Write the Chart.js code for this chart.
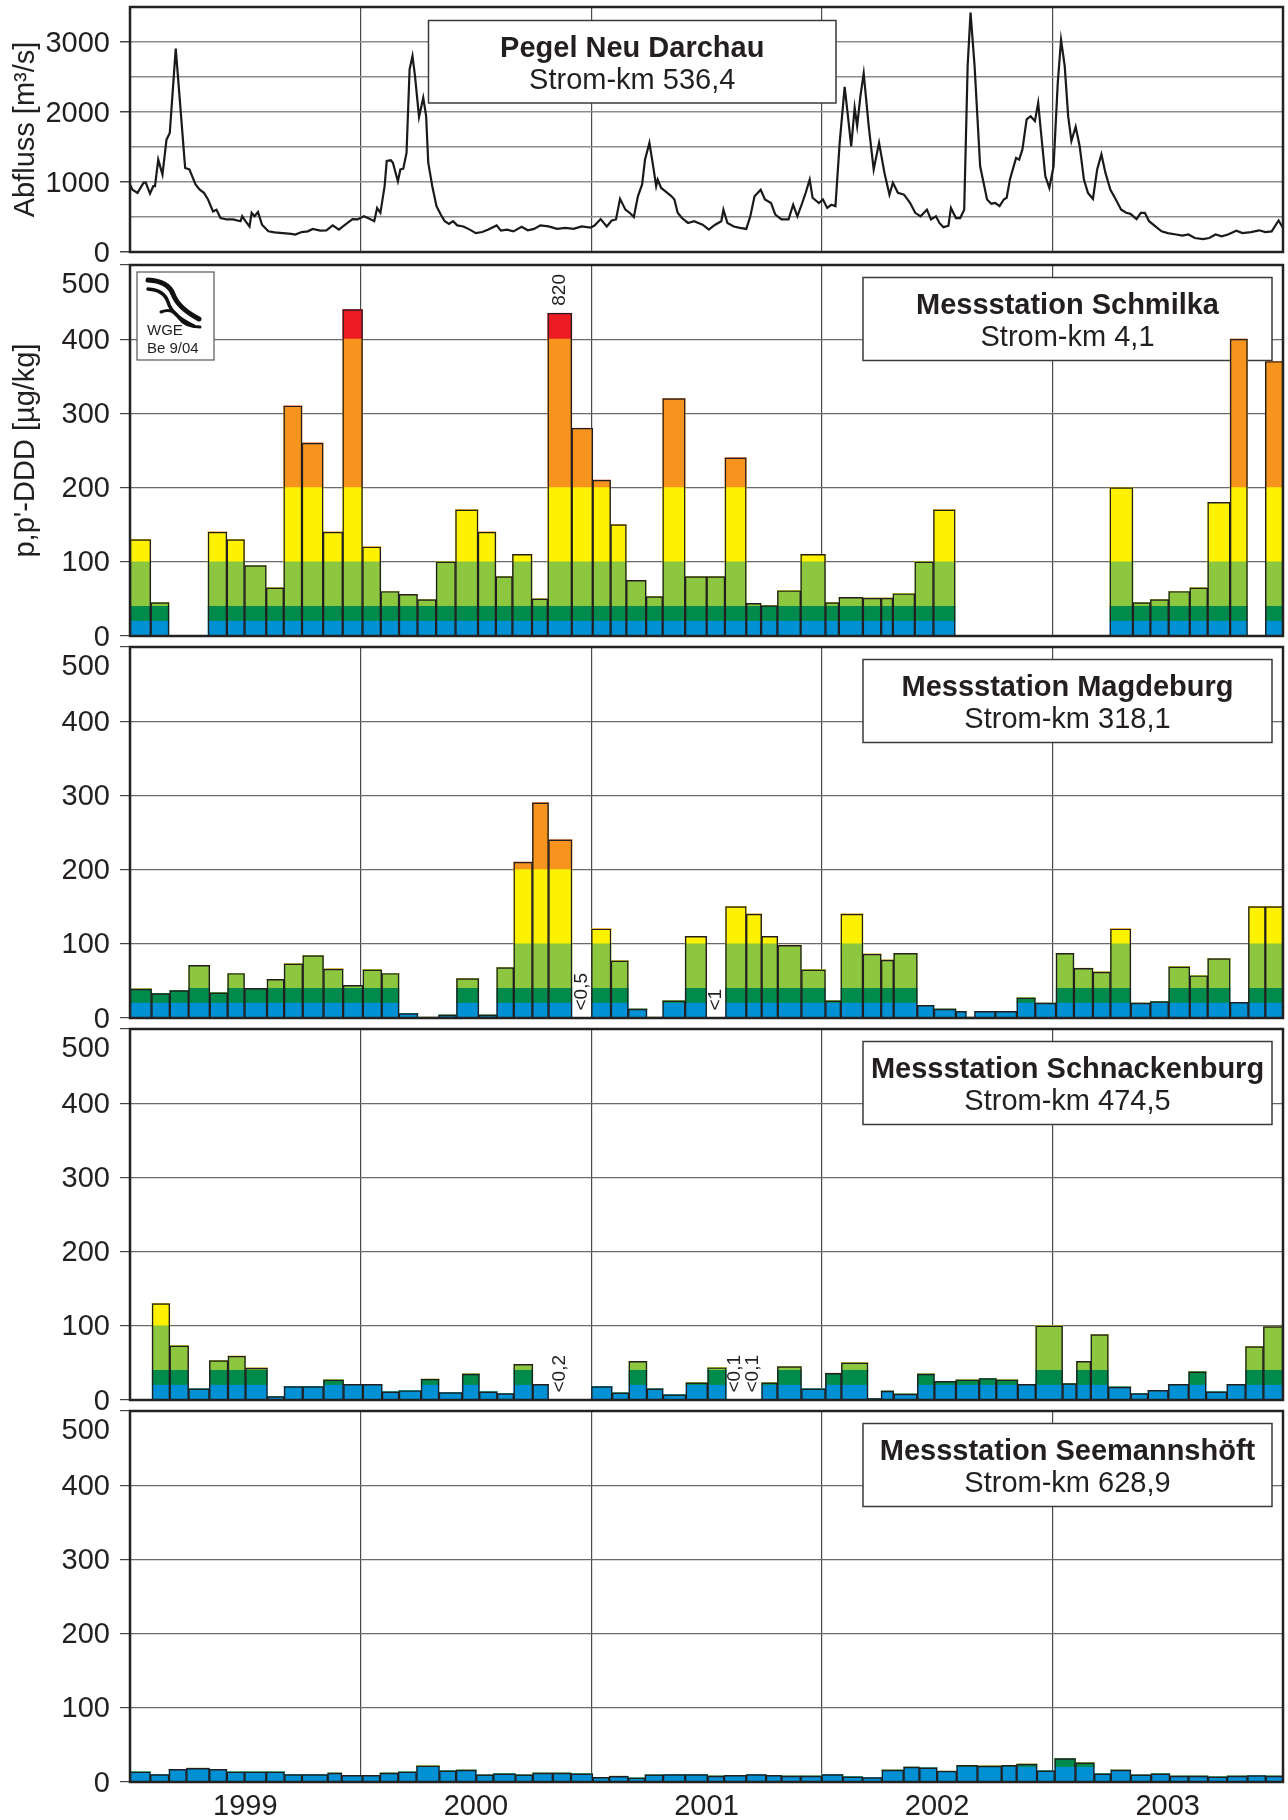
<!DOCTYPE html>
<html>
<head>
<meta charset="utf-8">
<script src="https://cdn.jsdelivr.net/npm/chart.js@4.4.1/dist/chart.umd.min.js"></script>
<style>
  body { margin: 0; background: #fff; width: 1288px; height: 1820px; position: relative; overflow: hidden; }
  canvas { position: absolute; left: 0; }
</style>
</head>
<body>
<canvas id="flow" width="1288" height="275" style="top:0px"></canvas>
<canvas id="schmilka" width="1288" height="407" style="top:247px"></canvas>
<canvas id="magdeburg" width="1288" height="407" style="top:629px"></canvas>
<canvas id="schnackenburg" width="1288" height="407" style="top:1011px"></canvas>
<canvas id="seemannshoeft" width="1288" height="427" style="top:1393px"></canvas>
<script>
// x axis is counted in months from Jan 1999 (0) to Dec 2003 (60)
const years = ['1999', '2000', '2001', '2002', '2003'];

// Abfluss Pegel Neu Darchau [m³/s]
const flowMonth = [0, 0.13, 0.39, 0.71, 0.82, 1.04, 1.21, 1.3, 1.47, 1.69, 1.9, 2.07, 2.38, 2.59, 2.87, 3.09, 3.41, 3.63, 3.85, 4.06,
  4.32, 4.5, 4.71, 5.04, 5.36, 5.75, 5.84, 6.01, 6.22, 6.33, 6.48, 6.66, 6.87, 7.2, 7.52, 7.95, 8.39, 8.6, 8.93, 9.25,
  9.51, 9.9, 10.22, 10.55, 10.87, 11.2, 11.58, 11.84, 12.17, 12.49, 12.71, 12.86, 13.03, 13.25, 13.36, 13.57, 13.68, 13.94, 14.07, 14.22,
  14.39, 14.55, 14.7, 14.83, 15.04, 15.26, 15.41, 15.52, 15.73, 15.95, 16.17, 16.38, 16.6, 16.81, 17.03, 17.35, 17.68, 18, 18.33, 18.65,
  19.08, 19.3, 19.62, 19.95, 20.38, 20.7, 21.03, 21.35, 21.78, 22.22, 22.65, 23.08, 23.51, 23.95, 24.16, 24.49, 24.81, 25.07, 25.29, 25.5,
  25.78, 26, 26.22, 26.43, 26.65, 26.8, 27.03, 27.25, 27.38, 27.46, 27.64, 27.85, 28.18, 28.33, 28.5, 28.72, 29.04, 29.35, 29.8, 30.12,
  30.45, 30.77, 30.88, 31.09, 31.42, 31.74, 32.07, 32.28, 32.5, 32.82, 33.04, 33.36, 33.58, 33.9, 34.27, 34.51, 34.73, 34.98, 35.16, 35.37,
  35.52, 35.85, 36.06, 36.28, 36.5, 36.71, 36.93, 37.19, 37.36, 37.53, 37.71, 37.84, 38.01, 38.18, 38.44, 38.7, 38.98, 39.26, 39.52, 39.7,
  39.96, 40.28, 40.6, 40.86, 41.14, 41.47, 41.68, 41.94, 42.12, 42.33, 42.59, 42.72, 42.98, 43.2, 43.41, 43.59, 43.74, 43.95, 44.24, 44.6,
  44.82, 45.03, 45.25, 45.47, 45.62, 45.79, 46.11, 46.27, 46.44, 46.66, 46.87, 47.09, 47.26, 47.41, 47.63, 47.84, 48.06, 48.28, 48.45, 48.64,
  48.82, 48.99, 49.21, 49.42, 49.64, 49.85, 50.11, 50.33, 50.55, 50.76, 51.02, 51.3, 51.58, 51.84, 52.06, 52.38, 52.6, 52.81, 53.03, 53.36,
  53.68, 54, 54.44, 54.76, 55.08, 55.41, 55.84, 56.16, 56.49, 56.81, 57.14, 57.57, 57.89, 58.33, 58.76, 59.08, 59.41, 59.77, 60];
const flowQ = [960, 890, 845, 990, 990, 835, 940, 940, 1320, 1105, 1605, 1700, 2905, 2180, 1200, 1180, 965, 890, 845, 750,
  580, 605, 485, 465, 465, 440, 510, 440, 365, 560, 510, 570, 390, 295, 280, 270, 260, 250, 285, 295,
  330, 305, 310, 380, 320, 390, 470, 465, 510, 470, 440, 630, 560, 940, 1300, 1310, 1275, 1010, 1180, 1190,
  1415, 2610, 2800, 2515, 1930, 2205, 1940, 1275, 940, 655, 535, 440, 400, 440, 380, 365, 320, 270, 285, 320,
  380, 305, 320, 295, 360, 310, 330, 380, 365, 330, 345, 330, 365, 350, 375, 470, 365, 450, 465, 760,
  605, 560, 500, 795, 965, 1320, 1560, 1180, 940, 1035, 915, 870, 795, 750, 560, 485, 415, 440, 390, 320,
  390, 440, 605, 415, 365, 345, 330, 510, 795, 890, 750, 700, 535, 465, 465, 675, 510, 700, 845, 1035,
  775, 700, 750, 630, 675, 655, 1560, 2360, 1940, 1510, 2060, 1800, 2230, 2550, 1800, 1180, 1560, 1130, 820, 990,
  845, 820, 700, 560, 510, 605, 465, 510, 415, 355, 375, 630, 485, 485, 605, 2660, 3420, 2660, 1225, 750,
  690, 700, 655, 750, 775, 1035, 1345, 1320, 1465, 1895, 1940, 1870, 2130, 1700, 1085, 915, 1225, 2420, 3030, 2660,
  1940, 1585, 1790, 1510, 1035, 845, 760, 1180, 1395, 1130, 890, 750, 605, 560, 545, 470, 560, 560, 440, 365,
  295, 270, 250, 235, 250, 200, 185, 200, 250, 225, 250, 305, 270, 285, 310, 285, 295, 450, 345];

// p,p'-DDD [µg/kg]: class limits and colours
const classLimits = [0, 20, 40, 100, 200, 400, 500];
const classColors = ['#0090d4', '#008a4b', '#8dc63f', '#fff200', '#f7941d', '#ed1c24'];
const CUT_VALUE = 435;   // values above the axis are drawn cut off and labelled

// sampling periods (month edges) and values per station
const schmilkaEdges = [0, 1.08, 2.03, 4.06, 5.04, 5.96, 7.09, 8.0, 8.95, 10.05, 11.07, 12.1, 13.05, 14.0, 14.96, 15.93, 16.94, 18.11, 19.04, 19.9,
  20.92, 21.74, 22.99, 24.08, 25.01, 25.83, 26.86, 27.72, 28.89, 30.01, 30.96, 32.07, 32.84, 33.69, 34.9, 36.19, 36.89, 38.14, 39.09, 39.7,
  40.84, 41.81, 42.94, 50.99, 52.19, 53.1, 54.05, 55.15, 56.08, 57.25, 58.15, 59.08, 60];
const schmilkaValues = [130, 45, null, 140, 130, 95, 65, 310, 260, 140, 440, 120, 60, 56, 49, 100, 170, 140, 80, 110,
  50, 820, 280, 210, 150, 75, 53, 320, 80, 80, 240, 44, 41, 61, 110, 45, 52, 51, 51, 57,
  100, 170, null, 200, 45, 49, 60, 65, 180, 400, null, 370];
const schmilkaNotes = [];

const magdeburgEdges = [0, 1.12, 2.07, 3.05, 4.15, 5.08, 5.96, 7.13, 8.02, 8.99, 10.07, 11.09, 12.12, 13.1, 14.0, 14.98, 16.06, 16.99, 18.15, 19.08,
  19.97, 20.94, 21.78, 23.0, 24.01, 25.03, 25.93, 26.9, 27.72, 28.89, 30.01, 30.99, 32.07, 32.87, 33.71, 34.94, 36.19, 36.99, 38.14, 39.09,
  39.74, 40.97, 41.84, 42.98, 43.52, 43.95, 45.03, 46.15, 47.11, 48.19, 49.12, 50.11, 51.02, 52.08, 53.1, 54.05, 55.15, 56.08, 57.25, 58.2,
  59.08, 60];
const magdeburgValues = [39, 33, 37, 71, 34, 60, 40, 52, 73, 84, 66, 44, 65, 60, 6, 1, 4, 53, 4, 68,
  210, 290, 240, null, 120, 77, 12, 1, 23, 110, null, 150, 140, 110, 98, 65, 23, 140, 86, 78,
  87, 17, 12, 9, 1, 9, 9, 27, 20, 87, 67, 62, 120, 20, 22, 69, 57, 80, 21, 150, 150];
const magdeburgNotes = [[23, '<0,5'], [30, '<1']];

const schnackenburgEdges = [0, 1.15, 2.07, 3.05, 4.13, 5.1, 6.01, 7.15, 8.02, 8.99, 10.07, 11.11, 12.12, 13.12, 14.0, 15.15, 16.08, 17.29, 18.18, 19.11,
  19.97, 20.96, 21.78, 23.0, 24.01, 25.09, 25.96, 26.9, 27.74, 28.93, 30.06, 31.03, 31.95, 32.87, 33.69, 34.94, 36.19, 37.02, 38.4, 39.09,
  39.74, 40.97, 41.86, 42.98, 44.19, 45.08, 46.2, 47.13, 48.53, 49.25, 50.0, 50.91, 52.08, 52.97, 54.03, 55.09, 56.0, 57.08, 58.05, 58.98, 60];
const schnackenburgValues = [null, 130, 73, 15, 53, 59, 43, 4.5, 18, 18, 27, 21, 21, 11, 12.5, 28, 10, 35, 11, 8.5,
  48, 21, null, null, 18, 9.5, 52, 15, 7, 23, 43.5, null, null, 23, 45, 15, 36, 50, 2, 12,
  8, 35, 25, 27, 29, 27, 21, 100, 22, 52, 88, 17.5, 8.5, 13, 21, 38, 11, 21, 72, 99];
const schnackenburgNotes = [[22, '<0,2'], [31, '<0,1'], [32, '<0,1']];

const seemannshoeftEdges = [0, 1.06, 2.03, 2.94, 4.13, 5.04, 5.96, 7.09, 8.04, 8.95, 10.29, 11.02, 12.1, 13.01, 13.96, 14.91, 16.1, 16.97, 18.02, 18.91,
  20.06, 20.96, 22.0, 22.95, 24.08, 24.94, 25.93, 26.8, 27.74, 28.89, 30.06, 30.92, 32.07, 33.1, 33.9, 34.9, 36.0, 37.1, 38.12, 39.13,
  40.26, 41.08, 42.0, 43.02, 44.1, 45.36, 46.14, 47.2, 48.12, 49.2, 50.18, 51.04, 52.08, 53.14, 54.11, 55.08, 56.1, 57.09, 58.15, 59.1, 60];
const seemannshoeftValues = [13.5, 10, 17, 18.5, 17, 13.5, 13.5, 13.5, 10, 10, 12, 9, 9, 12, 13.5, 21.6, 15, 16, 9.5, 11,
  9.5, 12, 12, 11, 6.3, 7.7, 5.4, 9.5, 10, 10, 8, 9, 10, 9, 8, 8, 10, 7, 6, 16,
  20, 19, 14.5, 22.5, 21.5, 22.5, 24, 15, 31.5, 25.7, 11, 16, 9.5, 11, 8, 8, 6.8, 8, 8.5, 8];
const seemannshoeftNotes = [];

const FONT = '"Liberation Sans", Arial, Helvetica, sans-serif';
const TEXT = '#231f20';

function drawnValue(v) {
  if (v == null) return null;
  return v > 500 ? CUT_VALUE : v;
}

// one point at each period edge (empty) and one in the middle carrying the value,
// so that 'flex' bars fill exactly from edge to edge
function barPoints(edges, values, fn) {
  const pts = [];
  for (let i = 0; i < values.length; i++) {
    pts.push({ x: edges[i], y: null });
    pts.push({ x: (edges[i] + edges[i + 1]) / 2, y: fn(values[i]) });
  }
  pts.push({ x: edges[values.length], y: null });
  return pts;
}

function titleBox(ctx, x, y, w, h, line1, line2) {
  ctx.save();
  ctx.fillStyle = '#fff';
  ctx.fillRect(x, y, w, h);
  ctx.strokeStyle = '#3a3a3a';
  ctx.lineWidth = 1.5;
  ctx.strokeRect(x, y, w, h);
  ctx.fillStyle = TEXT;
  ctx.textAlign = 'center';
  ctx.textBaseline = 'alphabetic';
  ctx.font = 'bold 29px ' + FONT;
  ctx.fillText(line1, x + w / 2, y + 36.5);
  ctx.font = '29px ' + FONT;
  ctx.fillText(line2, x + w / 2, y + 68.5);
  ctx.restore();
}

function drawLogo(ctx, x, y) {
  ctx.save();
  ctx.fillStyle = '#fff';
  ctx.fillRect(x, y, 77, 88);
  ctx.strokeStyle = '#555';
  ctx.lineWidth = 1.2;
  ctx.strokeRect(x, y, 77, 88);
  ctx.strokeStyle = '#111';
  ctx.lineCap = 'round';
  ctx.lineWidth = 5;
  ctx.beginPath();
  ctx.moveTo(x + 11, y + 8);
  ctx.quadraticCurveTo(x + 31, y + 9, x + 36, y + 22);
  ctx.quadraticCurveTo(x + 41, y + 36, x + 62, y + 47);
  ctx.stroke();
  ctx.lineWidth = 3.5;
  ctx.beginPath();
  ctx.moveTo(x + 11, y + 17);
  ctx.quadraticCurveTo(x + 27, y + 18, x + 31, y + 30);
  ctx.quadraticCurveTo(x + 35, y + 44, x + 57, y + 54);
  ctx.stroke();
  ctx.lineWidth = 3;
  ctx.beginPath();
  ctx.moveTo(x + 24, y + 40);
  ctx.quadraticCurveTo(x + 36, y + 35, x + 42, y + 46);
  ctx.quadraticCurveTo(x + 48, y + 55, x + 63, y + 55);
  ctx.stroke();
  ctx.fillStyle = TEXT;
  ctx.font = '15px ' + FONT;
  ctx.textAlign = 'left';
  ctx.textBaseline = 'alphabetic';
  ctx.fillText('WGE', x + 10, y + 63);
  ctx.fillText('Be 9/04', x + 10, y + 81);
  ctx.restore();
}

function rotatedText(ctx, text, x, y, align, font) {
  ctx.save();
  ctx.translate(x, y);
  ctx.rotate(-Math.PI / 2);
  ctx.font = font;
  ctx.fillStyle = TEXT;
  ctx.textAlign = align;
  ctx.textBaseline = align === 'center' ? 'alphabetic' : 'middle';
  ctx.fillText(text, 0, 0);
  ctx.restore();
}

const panelDecor = {
  id: 'panelDecor',
  beforeDatasetsDraw(chart, args, o) {
    const ctx = chart.ctx;
    const a = chart.chartArea;
    if (o.box) {
      const [bx, by, bw, bh] = o.box;
      titleBox(ctx, bx, a.top + by, bw, bh, o.title, o.subtitle);
    }
    if (o.logo) drawLogo(ctx, a.left + 7, a.top + 7);
  },
  afterDatasetsDraw(chart, args, o) {
    const ctx = chart.ctx;
    const a = chart.chartArea;
    const x = chart.scales.x;
    const y = chart.scales.y;
    // frame
    ctx.save();
    ctx.strokeStyle = '#222';
    ctx.lineWidth = 2.5;
    ctx.strokeRect(a.left, a.top, a.right - a.left, a.bottom - a.top);
    ctx.restore();
    // y tick labels
    ctx.save();
    ctx.font = '29px ' + FONT;
    ctx.fillStyle = TEXT;
    ctx.textAlign = 'right';
    ctx.textBaseline = 'middle';
    y.ticks.forEach(t => {
      if (!o.labelled(t.value)) return;
      const py = Math.max(y.getPixelForValue(t.value), a.top + 18) + 1.5;
      ctx.fillText(String(t.value), 110, py);
    });
    ctx.restore();
    if (o.yTitle) rotatedText(ctx, o.yTitle, 34, (a.top + a.bottom) / 2, 'center', '29px ' + FONT);
    // rotated notes on bars: values above the axis and values below detection
    if (o.edges) {
      const notes = o.notes.slice();
      o.values.forEach((v, i) => { if (v != null && v > 500) notes.push([i, String(v)]); });
      notes.forEach(([i, text]) => {
        const px = x.getPixelForValue((o.edges[i] + o.edges[i + 1]) / 2);
        const py = y.getPixelForValue(drawnValue(o.values[i]) || 0) - 7.5;
        rotatedText(ctx, text, px, py, 'left', '19px ' + FONT);
      });
    }
    if (o.yearLabels) {
      ctx.save();
      ctx.font = '29px ' + FONT;
      ctx.fillStyle = TEXT;
      ctx.textAlign = 'center';
      ctx.textBaseline = 'alphabetic';
      years.forEach((yr, i) => ctx.fillText(yr, x.getPixelForValue(i * 12 + 6), a.bottom + 33));
      ctx.restore();
    }
  }
};

function xAxis() {
  return {
    type: 'linear', min: 0, max: 60, offset: false,
    ticks: { display: false, stepSize: 12 },
    border: { display: false },
    grid: {
      offset: false, drawTicks: false, lineWidth: 1.2,
      color: c => (c.tick && c.tick.value > 0 && c.tick.value < 60) ? '#4a4a4a' : 'rgba(0,0,0,0)'
    }
  };
}

function baseOptions() {
  return {
    responsive: false, animation: false, devicePixelRatio: 1, events: [],
    plugins: { legend: { display: false }, tooltip: { enabled: false } }
  };
}

// Pegel Neu Darchau
new Chart(document.getElementById('flow'), {
  type: 'line',
  data: {
    datasets: [{
      data: flowMonth.map((m, i) => ({ x: m, y: flowQ[i] })),
      borderColor: '#1a1a1a', borderWidth: 2.2, pointRadius: 0, tension: 0, fill: false
    }]
  },
  options: Object.assign(baseOptions(), {
    layout: { padding: { left: 120, right: 5, top: 7, bottom: 23 } },
    scales: {
      x: xAxis(),
      y: {
        min: 0, max: 3500,
        ticks: { display: false, stepSize: 500 },
        border: { display: false },
        grid: {
          color: '#8c8c8c', lineWidth: 1.5, tickLength: 10,
          tickColor: c => (c.tick && c.tick.value % 1000 === 0) ? '#444' : 'rgba(0,0,0,0)'
        }
      }
    },
    plugins: {
      legend: { display: false }, tooltip: { enabled: false },
      panelDecor: {
        box: [428.5, 13.5, 407.5, 82.5], title: 'Pegel Neu Darchau', subtitle: 'Strom-km 536,4',
        labelled: v => v % 1000 === 0 && v <= 3000,
        yTitle: 'Abfluss [m³/s]'
      }
    }
  }),
  plugins: [panelDecor]
});

function stationChart(id, edges, values, notes, title, subtitle, extra) {
  const datasets = [{
    data: barPoints(edges, values, drawnValue),
    yAxisID: 'yo', order: -1,
    backgroundColor: 'rgba(0,0,0,0)', borderColor: '#231f20', borderWidth: 0.8,
    barThickness: 'flex', categoryPercentage: 1, barPercentage: 2
  }];
  classColors.forEach((col, k) => {
    datasets.push({
      data: barPoints(edges, values, v => {
        const d = drawnValue(v);
        if (d == null) return null;
        return Math.max(0, Math.min(d, classLimits[k + 1]) - classLimits[k]);
      }),
      yAxisID: 'y', backgroundColor: col, borderWidth: 0,
      barThickness: 'flex', categoryPercentage: 1, barPercentage: 2
    });
  });
  const bottomPad = extra.yearLabels ? 38 : 18;
  return new Chart(document.getElementById(id), {
    type: 'bar',
    data: { datasets },
    options: Object.assign(baseOptions(), {
      layout: { padding: { left: 120, right: 5, top: 18, bottom: bottomPad } },
      scales: {
        x: Object.assign(xAxis(), { stacked: true }),
        y: {
          min: 0, max: 500, stacked: true,
          ticks: { display: false, stepSize: 100 },
          border: { display: false },
          grid: { color: '#6a6a6a', lineWidth: 1.2, tickLength: 10, tickColor: '#444' }
        },
        yo: { min: 0, max: 500, display: false, stacked: false }
      },
      plugins: {
        legend: { display: false }, tooltip: { enabled: false },
        panelDecor: Object.assign({
          box: [863, 12.5, 409, 83], title, subtitle,
          labelled: v => v % 100 === 0,
          edges, values, notes
        }, extra)
      }
    }),
    plugins: [panelDecor]
  });
}

stationChart('schmilka', schmilkaEdges, schmilkaValues, schmilkaNotes,
  'Messstation Schmilka', 'Strom-km 4,1', { logo: true, yTitle: "p,p'-DDD [µg/kg]" });
stationChart('magdeburg', magdeburgEdges, magdeburgValues, magdeburgNotes,
  'Messstation Magdeburg', 'Strom-km 318,1', {});
stationChart('schnackenburg', schnackenburgEdges, schnackenburgValues, schnackenburgNotes,
  'Messstation Schnackenburg', 'Strom-km 474,5', {});
stationChart('seemannshoeft', seemannshoeftEdges, seemannshoeftValues, seemannshoeftNotes,
  'Messstation Seemannshöft', 'Strom-km 628,9', { yearLabels: true });
</script>
</body>
</html>
